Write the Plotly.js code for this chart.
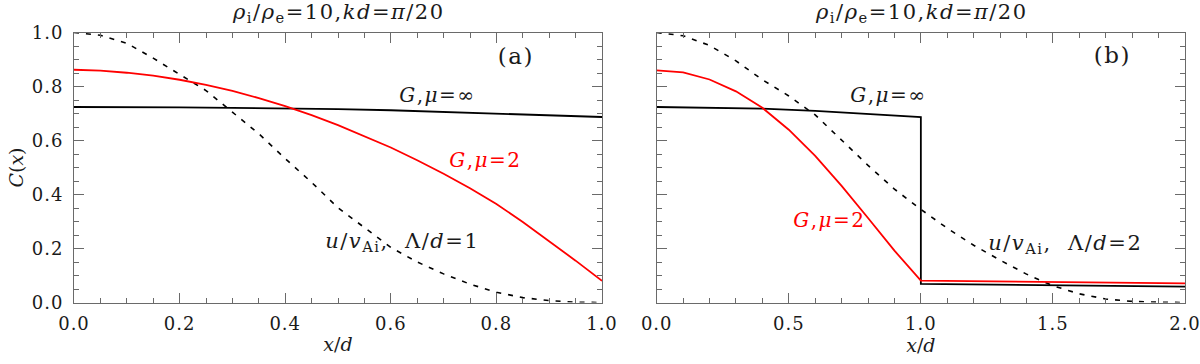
<!DOCTYPE html>
<html>
<head>
<meta charset="utf-8">
<script src="https://cdn.plot.ly/plotly-3.0.1.min.js"></script>
<style>
html,body{margin:0;padding:0;background:#fff;}
#chart{width:1200px;height:364px;}
#chart text.annotation-text{letter-spacing:1.5px;}
#chart .xtick text, #chart .ytick text, #chart .x2tick text{letter-spacing:1px;}
</style>
</head>
<body>
<div id="chart"></div>
<script>
// ---------- Panel (a): Lambda/d = 1 ----------
const xA = [0, 0.05, 0.1, 0.15, 0.2, 0.25, 0.3, 0.35, 0.4, 0.45, 0.5, 0.55, 0.6, 0.65, 0.7, 0.75, 0.8, 0.85, 0.9, 0.95, 1.0];
const uA = [1.0, 0.99, 0.96, 0.905, 0.845, 0.785, 0.705, 0.625, 0.533, 0.445, 0.351, 0.276, 0.204, 0.15, 0.106, 0.068, 0.038, 0.018, 0.007, 0.001, 0.0];
const gA2 = [0.862, 0.859, 0.851, 0.84, 0.825, 0.806, 0.784, 0.757, 0.727, 0.694, 0.657, 0.617, 0.574, 0.527, 0.477, 0.423, 0.365, 0.298, 0.228, 0.155, 0.08];
const xAinf = [0, 0.1, 0.2, 0.3, 0.4, 0.5, 0.6, 0.7, 0.8, 0.9, 1.0];
const gAinf = [0.724, 0.724, 0.723, 0.721, 0.719, 0.716, 0.712, 0.706, 0.700, 0.694, 0.687];

// ---------- Panel (b): Lambda/d = 2 ----------
const xBu = [0, 0.1, 0.2, 0.3, 0.4, 0.5, 0.6, 0.7, 0.8, 0.9, 1.0, 1.1, 1.2, 1.3, 1.4, 1.5, 1.6, 1.7, 1.8, 1.9, 2.0];
const uB = [1.0, 0.988, 0.952, 0.895, 0.825, 0.765, 0.695, 0.603, 0.508, 0.42, 0.345, 0.275, 0.212, 0.157, 0.105, 0.062, 0.032, 0.013, 0.004, 0.001, 0.0];
const xB2 = [0, 0.1, 0.2, 0.3, 0.4, 0.5, 0.6, 0.7, 0.8, 0.9, 1.0, 1.25, 1.5, 1.75, 2.0];
const gB2 = [0.86, 0.852, 0.826, 0.782, 0.721, 0.64, 0.543, 0.432, 0.313, 0.192, 0.081, 0.078, 0.076, 0.073, 0.071];
const xBinf = [0, 0.2, 0.4, 0.6, 0.8, 1.0, 1.0, 1.25, 1.5, 1.75, 2.0];
const gBinf = [0.724, 0.722, 0.718, 0.71, 0.699, 0.687, 0.069, 0.066, 0.063, 0.061, 0.059];

// ---------- Text ----------
const panelTitle = '<i>ρ</i><sub>i</sub>/<i>ρ</i><sub>e</sub>=10,<i>kd</i>=<i>π</i>/20';
const labelInf = '<i>G</i>,<i>μ</i>=∞';
const label2 = '<i>G</i>,<i>μ</i>=2';
const labelUA = '<i>u</i>/<i>v</i><sub>Ai</sub>,  Λ/<i>d</i>=1';
const labelUB = '<i>u</i>/<i>v</i><sub>Ai</sub>,  Λ/<i>d</i>=2';
const yTitle = '<i>C</i>(<i>x</i>)';
const xTitle = '<i>x</i>/<i>d</i>';

const FONT = 'DejaVu Serif';
const AX = '#6a6a6a';
const TXT = '#1a1a1a';

function axisBase(extra) {
  return Object.assign({
    showline: true, linecolor: AX, linewidth: 1, mirror: 'ticks',
    ticks: 'inside', ticklen: 10, tickcolor: AX, tickwidth: 1,
    showgrid: false, zeroline: false,
    tickfont: {family: FONT, size: 18, color: TXT},
    tickformat: '.1f'
  }, extra);
}

const traces = [
  {x: xA, y: uA, xaxis: 'x', yaxis: 'y', mode: 'lines', line: {color: '#000', width: 1.6, dash: '5px,7px'}, hoverinfo: 'skip'},
  {x: xAinf, y: gAinf, xaxis: 'x', yaxis: 'y', mode: 'lines', line: {color: '#000', width: 1.8}, hoverinfo: 'skip'},
  {x: xA, y: gA2, xaxis: 'x', yaxis: 'y', mode: 'lines', line: {color: '#ff0000', width: 1.8}, hoverinfo: 'skip'},
  {x: xBu, y: uB, xaxis: 'x2', yaxis: 'y2', mode: 'lines', line: {color: '#000', width: 1.6, dash: '5px,7px'}, hoverinfo: 'skip'},
  {x: xBinf, y: gBinf, xaxis: 'x2', yaxis: 'y2', mode: 'lines', line: {color: '#000', width: 1.8}, hoverinfo: 'skip'},
  {x: xB2, y: gB2, xaxis: 'x2', yaxis: 'y2', mode: 'lines', line: {color: '#ff0000', width: 1.8}, hoverinfo: 'skip'}
];

const yTop = 1 - 32.5/364, yBot = 1 - 302.5/364;

const layout = {
  width: 1200, height: 364,
  margin: {l: 0, r: 0, t: 0, b: 0},
  paper_bgcolor: '#fff', plot_bgcolor: '#fff',
  font: {family: FONT, size: 18, color: TXT},
  showlegend: false,
  xaxis: axisBase({domain: [74/1200, 602/1200], range: [0, 1], dtick: 0.2, tick0: 0,
    minor: {dtick: 0.05, ticks: 'inside', ticklen: 5, tickcolor: AX},
    ticklabelstandoff: 5,
    title: {text: xTitle, font: {family: FONT, size: 19, color: TXT}, standoff: 4}, anchor: 'y'}),
  yaxis: axisBase({domain: [yBot, yTop], range: [0, 1], dtick: 0.2, tick0: 0,
    minor: {dtick: 0.05, ticks: 'inside', ticklen: 5, tickcolor: AX},
    ticklabelstandoff: 6,
    title: {text: yTitle, font: {family: FONT, size: 19, color: TXT}, standoff: 6}, anchor: 'x'}),
  xaxis2: axisBase({domain: [656.7/1200, 1185/1200], range: [0, 2], dtick: 0.5, tick0: 0,
    minor: {dtick: 0.1, ticks: 'inside', ticklen: 5, tickcolor: AX},
    ticklabelstandoff: 5,
    title: {text: xTitle, font: {family: FONT, size: 19, color: TXT}, standoff: 4}, anchor: 'y2'}),
  yaxis2: axisBase({domain: [yBot, yTop], range: [0, 1], dtick: 0.2, tick0: 0,
    minor: {dtick: 0.05, ticks: 'inside', ticklen: 5, tickcolor: AX},
    showticklabels: false, anchor: 'x2'}),
  annotations: [
    {xref: 'paper', yref: 'paper', x: 338/1200, y: 1 - 13/364, xanchor: 'center', yanchor: 'middle', showarrow: false,
     text: panelTitle, font: {family: FONT, size: 21, color: TXT}},
    {xref: 'paper', yref: 'paper', x: 921/1200, y: 1 - 13/364, xanchor: 'center', yanchor: 'middle', showarrow: false,
     text: panelTitle, font: {family: FONT, size: 21, color: TXT}},
    {xref: 'x', yref: 'y', x: 0.837, y: 0.913, showarrow: false, text: '(a)', font: {family: FONT, size: 23, color: TXT}},
    {xref: 'x', yref: 'y', x: 0.6875, y: 0.769, showarrow: false, text: labelInf, font: {family: FONT, size: 20, color: TXT}},
    {xref: 'x', yref: 'y', x: 0.78, y: 0.528, showarrow: false, text: label2, font: {family: FONT, size: 20, color: '#ff0000'}},
    {xref: 'x', yref: 'y', x: 0.622, y: 0.224, showarrow: false, text: labelUA, font: {family: FONT, size: 21, color: TXT}},
    {xref: 'x2', yref: 'y2', x: 1.724, y: 0.917, showarrow: false, text: '(b)', font: {family: FONT, size: 23, color: TXT}},
    {xref: 'x2', yref: 'y2', x: 0.876, y: 0.769, showarrow: false, text: labelInf, font: {family: FONT, size: 20, color: TXT}},
    {xref: 'x2', yref: 'y2', x: 0.656, y: 0.306, showarrow: false, text: label2, font: {family: FONT, size: 20, color: '#ff0000'}},
    {xref: 'x2', yref: 'y2', x: 1.549, y: 0.217, showarrow: false, text: labelUB, font: {family: FONT, size: 21, color: TXT}}
  ]
};

Plotly.newPlot('chart', traces, layout, {staticPlot: true, displayModeBar: false});
</script>
</body>
</html>
